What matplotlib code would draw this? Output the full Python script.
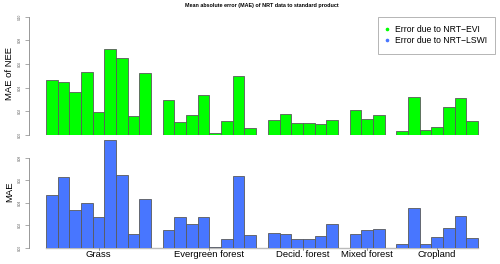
import numpy as np
import matplotlib
matplotlib.use("Agg")
import matplotlib.pyplot as plt
from matplotlib.lines import Line2D

plt.rcParams["font.family"] = ["Liberation Sans", "DejaVu Sans"]

# ── data ─────────────────────────────────────────────────────────
GROUPS = ["Grass", "Evergreen forest", "Decid. forest", "Mixed forest", "Cropland"]

EVI_ERR = [
    [0.0466, 0.0452, 0.0364, 0.0534, 0.0195, 0.0723, 0.0647, 0.0161, 0.0525],
    [0.0297, 0.0110, 0.0172, 0.0336, 0.0014, 0.0119, 0.0503, 0.0062],
    [0.0127, 0.0175, 0.0099, 0.0099, 0.0091, 0.0127],
    [0.0209, 0.0136, 0.0169],
    [0.0034, 0.0322, 0.0042, 0.0068, 0.0237, 0.0311, 0.0119],
]
LSWI_ERR = [
    [0.0470, 0.0626, 0.0335, 0.0396, 0.0270, 0.0956, 0.0647, 0.0126, 0.0432],
    [0.0158, 0.0275, 0.0207, 0.0270, 0.0003, 0.0075, 0.0641, 0.0117],
    [0.0135, 0.0126, 0.0075, 0.0075, 0.0102, 0.0207],
    [0.0126, 0.0153, 0.0165],
    [0.0036, 0.0356, 0.0036, 0.0099, 0.0176, 0.0281, 0.0090],
]

GREEN = "#00FF00"
BLUE  = "#4876FF"
EDGE  = "#5A5A5A"
GRAYTXT = "#555555"

# slot positions: one empty slot between groups
pos, centers = [], []
x = 0
for g in EVI_ERR:
    p = list(range(x, x + len(g)))
    pos.append(p)
    centers.append(x + len(g) / 2)
    x += len(g) + 1
n_slots = x - 1
xlim = (-0.04 * n_slots, n_slots * 1.04)

W, H = 500, 264
fig = plt.figure(figsize=(W / 100, H / 100), dpi=100, facecolor="white")

def px_axes(x0, x1, ytop, ybot):
    return fig.add_axes([x0 / W, 1 - ybot / H, (x1 - x0) / W, (ybot - ytop) / H])

ax_top = px_axes(28.7, 495.3, 12.0, 135.0)
ax_bot = px_axes(28.7, 495.3, 135.9, 247.7)

def style(ax, ymax, ticks, ylabel):
    ax.set_xlim(*xlim)
    ax.set_ylim(0, ymax)
    for s in ["top", "right", "bottom"]:
        ax.spines[s].set_visible(False)
    ax.spines["left"].set_color("#888888")
    ax.spines["left"].set_linewidth(0.6)
    ax.spines["left"].set_bounds(ticks[0], ticks[-1])
    ax.set_xticks([])
    ax.set_yticks(ticks)
    ax.set_yticklabels([f"{t:.2f}" for t in ticks], rotation=90, va="center",
                       fontsize=2.3, color=GRAYTXT)
    ax.tick_params(axis="y", length=3, width=0.5, color="#888888", pad=2)
    ax.set_ylabel(ylabel, fontsize=6.8, labelpad=2.5)
    ax.patch.set_alpha(0)

for ax, data, col in [(ax_top, EVI_ERR, GREEN), (ax_bot, LSWI_ERR, BLUE)]:
    for p, vals in zip(pos, data):
        ax.bar(np.array(p) + 0.5, vals, width=1.0, color=col,
               edgecolor=EDGE, linewidth=0.6)

style(ax_top, 0.104, [0.0, 0.02, 0.04, 0.06, 0.08, 0.10], "MAE of NEE")
style(ax_bot, 0.0994, [0.0, 0.02, 0.04, 0.06, 0.08], "MAE")

ax_bot.plot([0, n_slots], [0, 0], color="#BBBBBB", lw=1.0, zorder=0, clip_on=False)
for c, name in zip(centers, GROUPS):
    ax_bot.plot([c, c], [0, -0.0022], color="#666666", lw=0.5, clip_on=False)
    ax_bot.text(c, -0.0021, name, ha="center", va="top", fontsize=6.8)

fig.text(0.523, 1 - 5.5 / H, "Mean absolute error (MAE) of NRT data to standard product",
         ha="center", va="center", fontsize=3.9, fontweight="bold")

handles = [Line2D([], [], ls="none", marker="o", ms=1.6, color=GREEN, mec=GREEN),
           Line2D([], [], ls="none", marker="o", ms=1.6, color=BLUE, mec=BLUE)]
leg = ax_top.legend(handles, ["Error due to NRT\u2212EVI", "Error due to NRT\u2212LSWI"],
                    loc="upper right", bbox_to_anchor=(495.5 / W, 1 - 17.0 / H),
                    bbox_transform=fig.transFigure, fontsize=6.2, frameon=True,
                    fancybox=False, edgecolor="#AAAAAA", framealpha=1,
                    handlelength=0.4, handletextpad=0.7, borderpad=0.95,
                    labelspacing=0.25, borderaxespad=0)
leg.get_frame().set_linewidth(0.6)

fig.savefig("out.png", dpi=100, facecolor="white")
